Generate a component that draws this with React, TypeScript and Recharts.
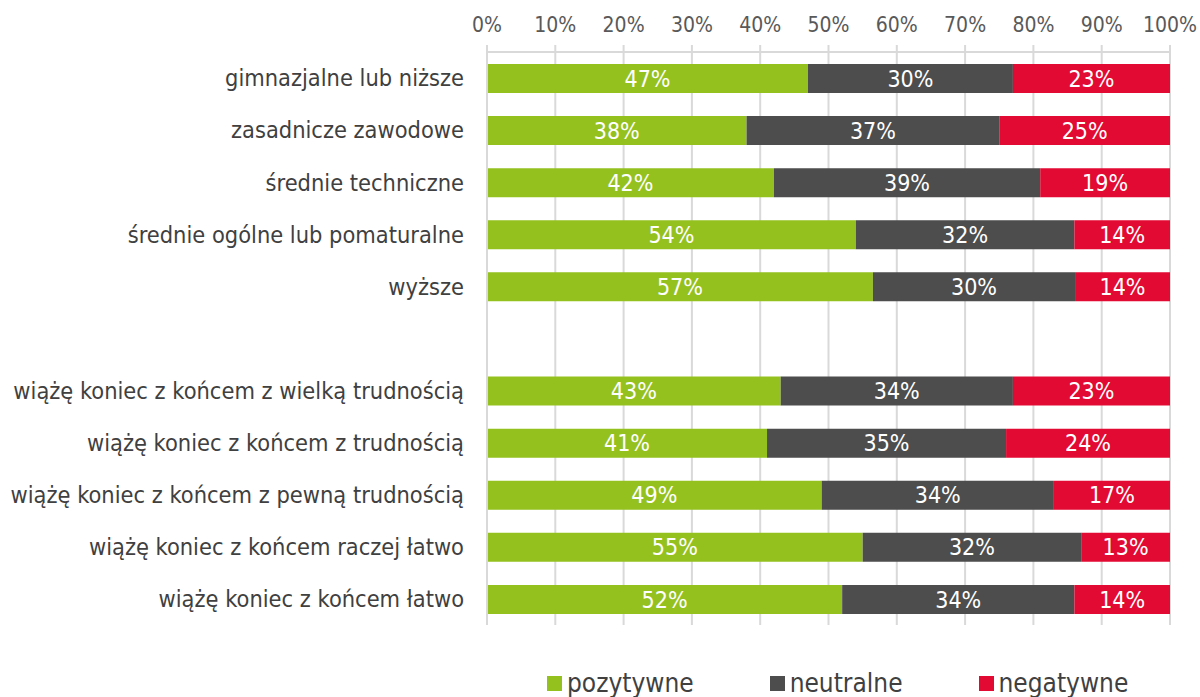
import React from "react";
import {
  BarChart,
  Bar,
  XAxis,
  YAxis,
  CartesianGrid,
  Legend,
  LabelList,
} from "recharts";

const categories = [
  "gimnazjalne lub niższe",
  "zasadnicze zawodowe",
  "średnie techniczne",
  "średnie ogólne lub pomaturalne",
  "wyższe",
  "",
  "wiążę koniec z końcem z wielką trudnością",
  "wiążę koniec z końcem z trudnością",
  "wiążę koniec z końcem z pewną trudnością",
  "wiążę koniec z końcem raczej łatwo",
  "wiążę koniec z końcem łatwo",
];

const pozytywne = [47, 38, 42, 54, 56.5, null, 43, 41, 49, 55, 52];
const neutralne = [30, 37, 39, 32, 29.6, null, 34, 35, 34, 32, 34];
const negatywne = [23, 25, 19, 14, 13.9, null, 23, 24, 17, 13, 14];

const xTicks = [0, 10, 20, 30, 40, 50, 60, 70, 80, 90, 100];

const colors = { poz: "#95c11f", neu: "#4d4d4d", neg: "#e20a32" };
const font = "'DejaVu Sans Condensed', 'DejaVu Sans', sans-serif";

const pct = (v: any) => (v == null ? "" : `${Math.round(Number(v))}%`);

function LegendBox() {
  const items = [
    { label: "pozytywne", color: colors.poz },
    { label: "neutralne", color: colors.neu },
    { label: "negatywne", color: colors.neg },
  ];
  return (
    <div style={{ display: "flex", height: 30, alignItems: "center", gap: 76, paddingLeft: 547, fontFamily: font }}>
      {items.map((it) => (
        <div key={it.label} style={{ display: "flex", alignItems: "center", fontSize: 26, color: "#404040" }}>
          <span style={{ width: 15, height: 15, background: it.color, display: "inline-block", marginRight: 5 }} />
          {it.label}
        </div>
      ))}
    </div>
  );
}

export default function App() {
  const data = categories.map((name, i) => ({
    name,
    poz: pozytywne[i],
    neu: neutralne[i],
    neg: negatywne[i],
  }));

  return (
    <div style={{ position: "absolute", left: 0, top: 0, width: 1200, height: 697, background: "#fff" }}>
      <BarChart
        width={1200}
        height={697}
        data={data}
        layout="vertical"
        margin={{ top: 12, right: 30, bottom: 42, left: 0 }}
        style={{ fontFamily: font }}
      >
        <CartesianGrid horizontal={false} stroke="#d9d9d9" strokeWidth={2} />
        <XAxis
          type="number"
          orientation="top"
          domain={[0, 100]}
          ticks={xTicks}
          tickFormatter={(v) => `${v}%`}
          height={40}
          tickSize={7}
          tickMargin={13}
          stroke="#d9d9d9"
          strokeWidth={2}
          tick={{ fill: "#595959", fontSize: 21 }}
        />
        <YAxis
          type="category"
          dataKey="name"
          width={487}
          tickSize={0}
          tickMargin={23}
          stroke="#d9d9d9"
          strokeWidth={2}
          tick={{ fill: "#404040", fontSize: 23.4 }}
          interval={0}
        />
        <Legend verticalAlign="bottom" content={() => <LegendBox />} wrapperStyle={{ bottom: -1 }} />
        <Bar dataKey="poz" stackId="a" fill={colors.poz} barSize={29} isAnimationActive={false}>
          <LabelList dataKey="poz" position="center" fill="#fff" fontSize={23} formatter={pct} />
        </Bar>
        <Bar dataKey="neu" stackId="a" fill={colors.neu} barSize={29} isAnimationActive={false}>
          <LabelList dataKey="neu" position="center" fill="#fff" fontSize={23} formatter={pct} />
        </Bar>
        <Bar dataKey="neg" stackId="a" fill={colors.neg} barSize={29} isAnimationActive={false}>
          <LabelList dataKey="neg" position="center" fill="#fff" fontSize={23} formatter={pct} />
        </Bar>
      </BarChart>
    </div>
  );
}
